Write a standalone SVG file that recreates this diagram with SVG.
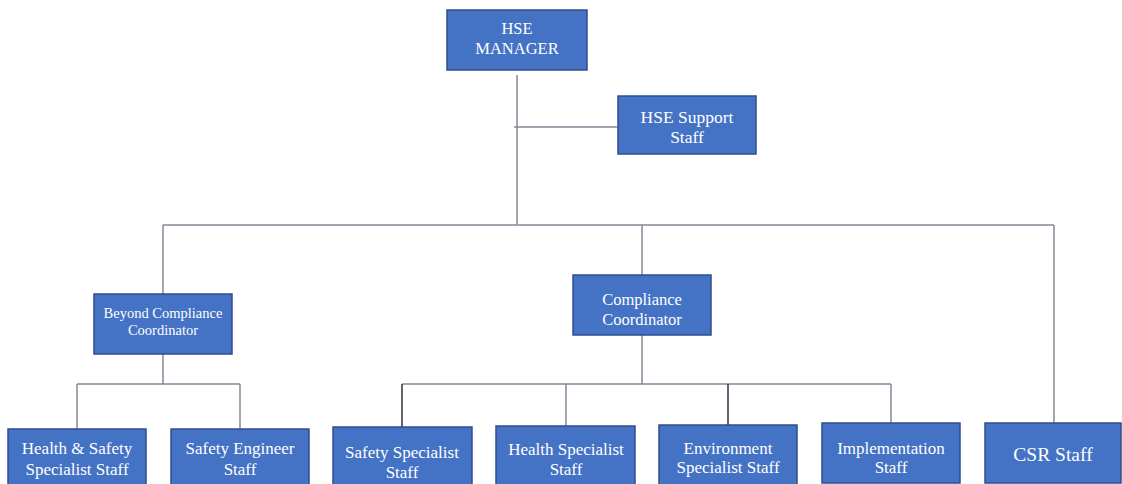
<svg xmlns="http://www.w3.org/2000/svg" width="1122" height="484" viewBox="0 0 1122 484">
<style>
.box{fill:#4472c4;stroke:#2f4f8f;stroke-width:1.5}
.t{font-family:"Liberation Serif","DejaVu Serif",serif;fill:#ffffff;text-anchor:middle;font-size:17px}
.s{font-size:14.5px}
.m{font-size:16.5px}
.l{font-size:19.5px}
.c{stroke:#858896;stroke-width:1.5;fill:none}
.d{stroke:#2b303c;stroke-width:1.5;fill:none}
</style>
<rect width="1122" height="484" fill="#ffffff"/>
<g id="connectors">
<path class="c" d="M517 75V225"/>
<path class="c" d="M514 127H618"/>
<path class="c" d="M163 225H1054"/>
<path class="c" d="M163 225V294"/>
<path class="c" d="M642 225V275"/>
<path class="c" d="M1054 225V423"/>
<path class="c" d="M163 354V384"/>
<path class="c" d="M77 384H240"/>
<path class="c" d="M77 384V429"/>
<path class="c" d="M240 384V429"/>
<path class="c" d="M642 335V384"/>
<path class="c" d="M402 384H891"/>
<path class="d" d="M402 384V427"/>
<path class="c" d="M566 384V426"/>
<path class="d" d="M728 384V425"/>
<path class="c" d="M891 384V423"/>
</g>
<g id="hse-manager"><rect class="box" x="447" y="10" width="140" height="60"/><text class="t m" x="517" y="34">HSE</text><text class="t m" x="517" y="54">MANAGER</text></g>
<g id="hse-support"><rect class="box" x="618" y="96" width="138" height="58"/><text class="t" x="687" y="123" style="font-size:17.5px">HSE Support</text><text class="t" x="687" y="143" style="font-size:17.5px">Staff</text></g>
<g id="beyond-compliance"><rect class="box" x="94" y="294" width="138" height="60"/><text class="t s" x="163" y="318">Beyond Compliance</text><text class="t s" x="163" y="335">Coordinator</text></g>
<g id="compliance"><rect class="box" x="573" y="275" width="138" height="60"/><text class="t m" x="642" y="305">Compliance</text><text class="t m" x="642" y="325">Coordinator</text></g>
<g id="hs-specialist"><rect class="box" x="8" y="429" width="138" height="56"/><text class="t" x="77" y="454">Health &amp; Safety</text><text class="t" x="77" y="475">Specialist Staff</text></g>
<g id="safety-engineer"><rect class="box" x="171" y="429" width="138" height="56"/><text class="t" x="240" y="454">Safety Engineer</text><text class="t" x="240" y="475">Staff</text></g>
<g id="safety-specialist"><rect class="box" x="333" y="427" width="139" height="58"/><text class="t" x="402" y="458">Safety Specialist</text><text class="t" x="402" y="478">Staff</text></g>
<g id="health-specialist"><rect class="box" x="496" y="426" width="139" height="59"/><text class="t" x="566" y="455">Health Specialist</text><text class="t" x="566" y="475">Staff</text></g>
<g id="environment-specialist"><rect class="box" x="659" y="425" width="138" height="60"/><text class="t" x="728" y="454">Environment</text><text class="t" x="728" y="473">Specialist Staff</text></g>
<g id="implementation"><rect class="box" x="822" y="423" width="138" height="60"/><text class="t" x="891" y="454">Implementation</text><text class="t" x="891" y="473">Staff</text></g>
<g id="csr-staff"><rect class="box" x="985" y="423" width="136" height="60"/><text class="t l" x="1053" y="461">CSR Staff</text></g>
</svg>
